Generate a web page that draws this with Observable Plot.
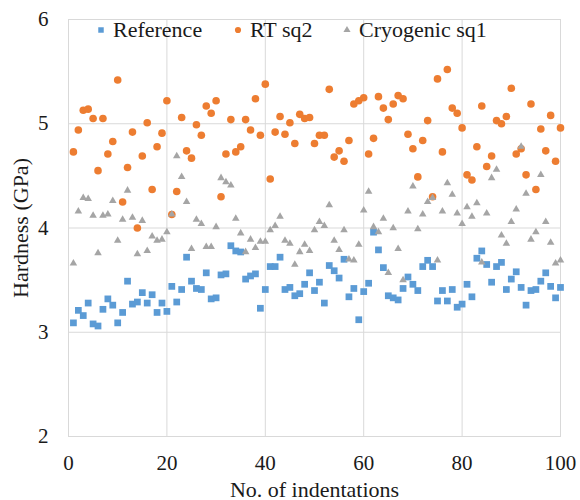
<!DOCTYPE html>
<html>
<head>
<meta charset="utf-8">
<script src="https://cdn.jsdelivr.net/npm/d3@7"></script>
<script src="https://cdn.jsdelivr.net/npm/@observablehq/plot@0.6"></script>
<style>
  body { margin: 0; background: #fff; }
  #wrap { position: relative; width: 580px; height: 500px; }
  #wrap svg text { font-family: "Liberation Serif", "Times New Roman", Times, serif !important; }
  #legend { position: absolute; left: 0; top: 0; pointer-events: none; }
</style>
</head>
<body>
<div id="wrap"></div>
<script>
// ---- data ----
const seriesNames = ["Reference", "RT sq2", "Cryogenic sq1"];
const seriesColors = ["#5B9BD5", "#ED7D31", "#A5A5A5"];
const xTicks = [0, 20, 40, 60, 80, 100];
const yTicks = [2, 3, 4, 5, 6];

const reference = [
  3.09, 3.21, 3.16, 3.28, 3.08, 3.06, 3.22, 3.32, 3.26, 3.09,
  3.19, 3.49, 3.27, 3.29, 3.38, 3.28, 3.36, 3.19, 3.28, 3.20,
  3.44, 3.29, 3.41, 3.72, 3.49, 3.42, 3.41, 3.57, 3.32, 3.33,
  3.55, 3.56, 3.83, 3.78, 3.77, 3.51, 3.54, 3.56, 3.23, 3.41,
  3.63, 3.63, 3.72, 3.41, 3.43, 3.35, 3.37, 3.46, 3.57, 3.40,
  3.48, 3.28, 3.64, 3.59, 3.52, 3.70, 3.34, 3.42, 3.12, 3.39,
  3.47, 3.96, 3.79, 3.62, 3.35, 3.33, 3.31, 3.42, 3.53, 3.46,
  3.40, 3.63, 3.69, 3.63, 3.30, 3.40, 3.30, 3.41, 3.24, 3.27,
  3.46, 3.34, 3.71, 3.78, 3.65, 3.48, 3.63, 3.67, 3.41, 3.51,
  3.58, 3.43, 3.26, 3.40, 3.41, 3.49, 3.57, 3.44, 3.33, 3.43
];
const rtSq2 = [
  4.73, 4.94, 5.13, 5.14, 5.05, 4.55, 5.05, 4.71, 4.83, 5.42,
  4.25, 4.58, 4.92, 4.00, 4.69, 5.01, 4.37, 4.78, 4.91, 5.22,
  4.13, 4.35, 5.06, 4.74, 4.67, 4.99, 4.89, 5.17, 5.10, 5.22,
  4.30, 4.71, 5.04, 4.73, 4.78, 5.04, 4.94, 5.24, 4.89, 5.38,
  4.47, 4.92, 5.07, 4.90, 5.01, 4.81, 5.09, 5.05, 5.06, 4.81,
  4.89, 4.89, 5.33, 4.68, 4.74, 4.64, 4.84, 5.19, 5.22, 5.25,
  4.71, 4.86, 5.26, 5.15, 5.04, 5.19, 5.27, 5.24, 4.90, 4.76,
  4.49, 4.84, 5.03, 4.30, 5.43, 4.73, 5.52, 5.15, 5.10, 4.96,
  4.51, 4.46, 4.78, 5.17, 4.59, 4.69, 5.03, 5.00, 5.07, 5.34,
  4.71, 4.76, 4.51, 5.19, 4.37, 4.95, 4.74, 5.08, 4.64, 4.96
];
const cryoSq1 = [
  3.66, 4.16, 4.29, 4.28, 4.12, 3.76, 4.12, 4.13, 4.26, 3.88,
  4.08, 4.36, 4.10, 3.75, 4.07, 3.78, 3.92, 3.88, 3.89, 3.96,
  4.13, 4.69, 4.49, 4.25, 3.80, 4.08, 4.04, 3.82, 3.82, 4.01,
  4.48, 4.44, 4.41, 4.09, 3.95, 3.77, 3.89, 3.81, 3.87, 3.87,
  3.98, 4.02, 4.11, 3.88, 3.85, 3.65, 3.77, 3.84, 3.78, 3.98,
  4.06, 4.02, 4.22, 3.88, 3.79, 3.98, 3.70, 3.69, 3.84, 4.17,
  4.35, 4.01, 3.96, 4.09, 3.57, 4.00, 3.80, 3.50, 4.16, 4.40,
  3.99, 4.13, 4.25, 4.29, 3.69, 4.16, 4.43, 4.32, 4.14, 4.04,
  4.20, 4.11, 4.24, 3.67, 4.14, 4.48, 4.56, 3.93, 3.85, 4.06,
  4.18, 4.78, 4.33, 3.89, 3.96, 4.51, 4.06, 3.86, 3.66, 3.69
];

// rows: indentation number = position in list (1-based)
const toRows = (vals) => vals.map((v, i) => ({n: i + 1, h: v}));

const FONT = '"Liberation Serif", "Times New Roman", Times, serif';
const GRID = "#d9d9d9";

const chart = Plot.plot({
  width: 580,
  height: 500,
  marginLeft: 68,
  marginRight: 20,
  marginTop: 19,
  marginBottom: 64,
  style: { fontFamily: FONT, fontSize: "21px", color: "#1a1a1a", background: "#fff", overflow: "visible" },
  x: { domain: [0, 100] },
  y: { domain: [2, 6] },
  marks: [
    Plot.gridX(xTicks, { stroke: GRID, strokeOpacity: 1, strokeWidth: 1 }),
    Plot.gridY(yTicks, { stroke: GRID, strokeOpacity: 1, strokeWidth: 1 }),
    Plot.frame({ stroke: GRID, strokeWidth: 1 }),
    Plot.axisX({ ticks: xTicks, tickSize: 0, tickPadding: 19, fontSize: 21, fontFamily: FONT, label: null }),
    Plot.axisX({ ticks: [], tickSize: 0, fontSize: 22, fontFamily: FONT, label: "No. of indentations", labelAnchor: "center", labelArrow: "none", labelOffset: 60 }),
    Plot.axisY({ ticks: yTicks, tickSize: 0, tickPadding: 20, fontSize: 21, fontFamily: FONT, label: null, tickFormat: d => String(d) }),
    Plot.axisY({ ticks: [], tickSize: 0, fontSize: 22, fontFamily: FONT, label: "Hardness (GPa)", labelAnchor: "center", labelArrow: "none", labelOffset: 56 }),
    Plot.dot(toRows(reference), { x: "n", y: "h", symbol: "square", r: 3.8, fill: seriesColors[0], stroke: null }),
    Plot.dot(toRows(rtSq2), { x: "n", y: "h", symbol: "circle", r: 3.8, fill: seriesColors[1], stroke: null }),
    Plot.dot(toRows(cryoSq1), { x: "n", y: "h", symbol: "triangle", r: 2.8, fill: seriesColors[2], stroke: null })
  ]
});

const wrap = document.getElementById("wrap");
wrap.appendChild(chart);

// ---- legend overlay (inside plot area, top) ----
const ns = "http://www.w3.org/2000/svg";
const leg = document.createElementNS(ns, "svg");
leg.setAttribute("id", "legend");
leg.setAttribute("width", 580);
leg.setAttribute("height", 60);
const legendItems = [
  { mx: 101, tx: 113, sym: d3.symbolSquare, size: 30 },
  { mx: 238, tx: 250, sym: d3.symbolCircle, size: 30 },
  { mx: 347, tx: 359, sym: d3.symbolTriangle, size: 22 }
];
legendItems.forEach((it, i) => {
  const p = document.createElementNS(ns, "path");
  p.setAttribute("d", d3.symbol(it.sym, it.size)());
  p.setAttribute("transform", `translate(${it.mx},30)`);
  p.setAttribute("fill", seriesColors[i]);
  leg.appendChild(p);
  const t = document.createElementNS(ns, "text");
  t.setAttribute("x", it.tx);
  t.setAttribute("y", 37);
  t.setAttribute("font-family", FONT);
  t.setAttribute("font-size", 22);
  t.setAttribute("fill", "#1a1a1a");
  t.textContent = seriesNames[i];
  leg.appendChild(t);
});
wrap.appendChild(leg);
</script>
</body>
</html>
